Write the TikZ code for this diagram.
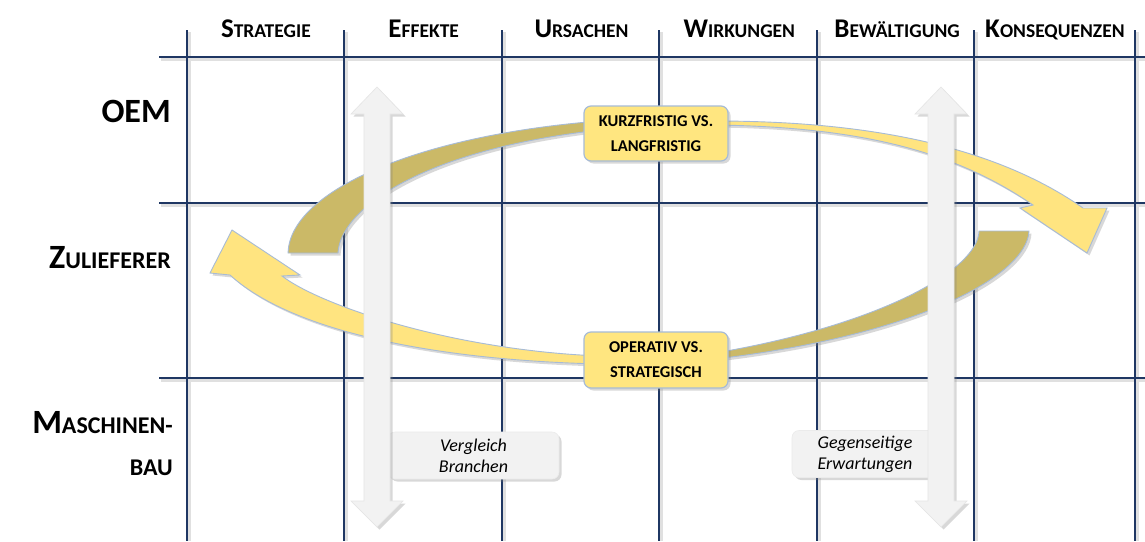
\documentclass[tikz,border=0pt]{standalone}
\usepackage{fontspec}
\setmainfont{Carlito}
\usepackage{tikz}
\usetikzlibrary{shadows}

\definecolor{gridblue}{HTML}{1F3763}
\definecolor{boxyellow}{HTML}{FFE680}
\definecolor{arrowyellow}{HTML}{FFE480}
\definecolor{arrowkhaki}{HTML}{CBB967}
\definecolor{edgeblue}{HTML}{A7BBD6}
\definecolor{pillargray}{HTML}{F2F2F2}

\newcommand{\hdr}[2]{{\fontsize{27}{27}\selectfont #1}{\fontsize{19.5}{19.5}\selectfont #2}}
\newcommand{\rowcap}[2]{{\fontsize{34}{34}\selectfont #1}{\fontsize{24}{24}\selectfont #2}}

\tikzset{
    gridline/.style={gridblue, line width=1.6pt},
    gridshadow/.style={black!12, line width=3pt},
    softshadow/.style={drop shadow={shadow xshift=2.5pt, shadow yshift=-2.5pt, opacity=0.3}},
    sweep/.style={draw=edgeblue, line width=0.9pt, softshadow},
    pillar/.style={fill=pillargray, draw=black!10, line width=0.6pt, softshadow},
    head/.style={font=\bfseries, anchor=base, inner sep=0pt},
    rowlab/.style={font=\bfseries, anchor=base east, inner sep=0pt},
    topic/.style={rounded corners=7pt, fill=boxyellow, draw=edgeblue, line width=1.2pt,
        minimum width=144pt, minimum height=55pt, inner sep=0pt, align=center,
        font=\bfseries\fontsize{16.5}{25}\selectfont, softshadow},
    note/.style={rounded corners=7pt, fill=pillargray, draw=black!8, line width=0.6pt,
        minimum height=47pt, inner sep=0pt, align=center,
        font=\itshape\fontsize{18}{21}\selectfont, softshadow}
}

\begin{document}
\begin{tikzpicture}[x=1pt, y=-1pt]
    \useasboundingbox[fill=white] (0,0) rectangle (1145,541);

    % grid
    \foreach \x in {187,344,502,659,817,974,1135} {
        \draw[gridshadow] ({\x+2},32) -- ({\x+2},541);
    }
    \foreach \y in {57,203,378} {
        \draw[gridshadow] (161,{\y+2}) -- (1145,{\y+2});
    }
    \foreach \x in {187,344,502,659,817,974,1135} {
        \draw[gridline] (\x,30) -- (\x,541);
    }
    \foreach \y in {57,203,378} {
        \draw[gridline] (159,\y) -- (1145,\y);
    }

    % column and row titles
    \foreach \a/\b [count=\i] in {S/TRATEGIE, E/FFEKTE, U/RSACHEN, W/IRKUNGEN, B/EWÄLTIGUNG, K/ONSEQUENZEN} {
        \node[head] (h\i) at ({187+157.8*(\i-0.5)}, 37) {\hdr{\a}{\b}};
    }
    \node[rowlab] (oem) at (171,122) {\rowcap{OEM}{}};
    \node[rowlab] (zul) at (171,268) {\rowcap{Z}{ULIEFERER}};
    \node[rowlab] (masch) at (173,433) {\rowcap{M}{ASCHINEN-}};
    \node[rowlab] (bau) at (173,475) {\rowcap{}{BAU}};

    % notes
    \node[note, minimum width=171pt] (vergl) at (473.5,455.5) {Vergleich\\Branchen};
    \node[note, minimum width=146pt] (erwart) at (865,454) {Gegenseitige\\Erwartungen};

    % circular arrows
    \fill[arrowkhaki, sweep] (288,253) .. controls (290,190) and (420,135) .. (600,121)
        -- (600,130) .. controls (420,150) and (340,210) .. (338,253) -- cycle;
    \fill[arrowyellow, sweep] (715,121) .. controls (880,121) and (1000,150) .. (1083,208)
        -- (1107,208) -- (1087,253) -- (1020,208) -- (1033,205)
        .. controls (960,155) and (870,127) .. (715,125) -- cycle;
    \fill[arrowkhaki, sweep] (979,231) -- (1029,231) .. controls (1027,275) and (920,335) .. (715,359)
        -- (715,353) .. controls (880,325) and (978,270) .. (979,231) -- cycle;
    \fill[arrowyellow, sweep] (600,356) .. controls (450,350) and (320,305) .. (282,276)
        -- (300,275) -- (232,230) -- (210,273) -- (230,275)
        .. controls (290,330) and (430,360) .. (600,364) -- cycle;

    % double arrows
    \foreach \c in {377,941} {
        \filldraw[pillar] (\c,87) -- ({\c+26},114) -- ({\c+13},114) -- ({\c+13},501) -- ({\c+26},501)
            -- (\c,527) -- ({\c-26},501) -- ({\c-13},501) -- ({\c-13},114) -- ({\c-26},114) -- cycle;
    }

    % topics
    \node[topic] (kurz) at (656,133.5) {KURZFRISTIG VS.\\LANGFRISTIG};
    \node[topic, minimum height=56pt] (oper) at (656,360) {OPERATIV VS.\\STRATEGISCH};
\end{tikzpicture}
\end{document}
